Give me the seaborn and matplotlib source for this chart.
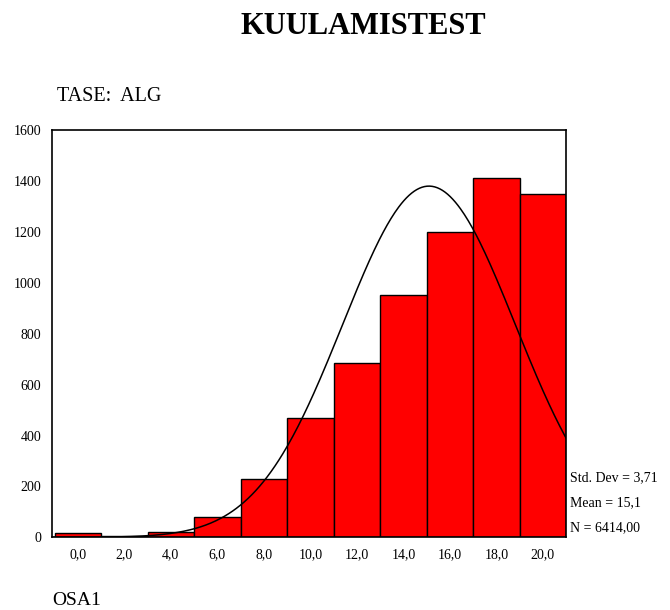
import numpy as np
import matplotlib
matplotlib.use("Agg")
import matplotlib.pyplot as plt
import seaborn as sns

# bin centres (OSA1 score) and counts
centres = [0, 2, 4, 6, 8, 10, 12, 14, 16, 18, 20]
counts = [16, 5, 20, 80, 230, 470, 684, 950, 1200, 1410, 1349]
tick_labels = ["0,0", "2,0", "4,0", "6,0", "8,0", "10,0", "12,0", "14,0", "16,0", "18,0", "20,0"]
y_ticks = [0, 200, 400, 600, 800, 1000, 1200, 1400, 1600]

std_dev = 3.71
mean = 15.1
n_total = 6414.00
bin_width = 2

sns.set_theme(style="white")
plt.rcParams['font.family'] = ['Liberation Serif', 'DejaVu Serif']
plt.rcParams['text.color'] = 'black'
plt.rcParams['xtick.color'] = 'black'
plt.rcParams['ytick.color'] = 'black'

fig = plt.figure(figsize=(6.7, 6.1), dpi=100)
ax = fig.add_axes([0.078, 0.119, 0.767, 0.668])

sns.histplot(x=centres, weights=counts, binwidth=bin_width, binrange=(-1, 21),
             color='#ff0000', edgecolor='black', linewidth=1.0, alpha=1.0, ax=ax)

# normal curve from the reported statistics
xs = np.linspace(-1.1, 21, 400)
ys = n_total * bin_width / (std_dev * np.sqrt(2 * np.pi)) * np.exp(-0.5 * ((xs - mean) / std_dev) ** 2)
sns.lineplot(x=xs, y=ys, color='black', linewidth=1.1, ax=ax)

ax.set_xlim(-1.1, 21)
ax.set_ylim(0, 1600)
ax.set_xticks(centres)
ax.set_xticklabels(tick_labels, fontsize=10)
ax.set_yticks(y_ticks)
ax.set_yticklabels([str(v) for v in y_ticks], fontsize=10)
ax.tick_params(axis='both', direction='out', length=3, width=3, colors='black', pad=5)
ax.set_xlabel('')
ax.set_ylabel('')
for s in ax.spines.values():
    s.set_color('black')
    s.set_linewidth(1.2)

fig.text(0.542, 0.956, 'KUULAMISTEST', ha='center', va='center', fontsize=22, fontweight='bold')
fig.text(0.085, 0.841, 'TASE:  ALG', ha='left', va='center', fontsize=14.5)
fig.text(0.078, 0.016, 'OSA1', ha='left', va='center', fontsize=14)

fig.text(0.851, 0.217, 'Std. Dev = 3,71', ha='left', va='center', fontsize=10)
fig.text(0.851, 0.176, 'Mean = 15,1', ha='left', va='center', fontsize=10)
fig.text(0.851, 0.135, 'N = 6414,00', ha='left', va='center', fontsize=10)

fig.savefig('out.png', dpi=100)
